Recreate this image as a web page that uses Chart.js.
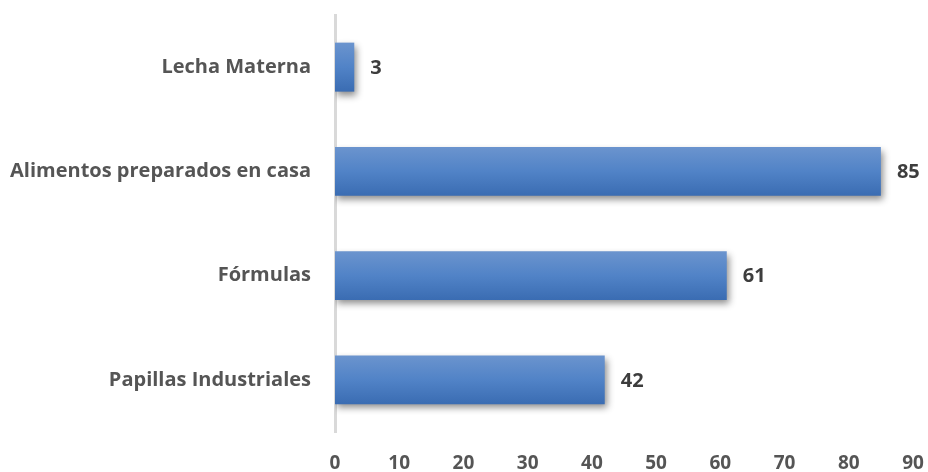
<!DOCTYPE html>
<html>
<head>
<meta charset="utf-8">
<script src="https://cdn.jsdelivr.net/npm/chart.js@4"></script>
<style>
  html, body { margin: 0; padding: 0; background: #fff; }
  canvas { display: block; }
</style>
</head>
<body>
<canvas id="chart" width="928" height="472"></canvas>
<script>
const categories = ['Lecha Materna', 'Alimentos preparados en casa', 'Fórmulas', 'Papillas Industriales']
const values = [3, 85, 61, 42]
const xTicks = [0, 10, 20, 30, 40, 50, 60, 70, 80, 90]

const textColor = '#555555'
const fontFamily = '"Open Sans", Lato, sans-serif'
const barShare = 0.94 * 0.5

// vertical gradient per bar, built from the category scale
function barGradient(context) {
  const chart = context.chart
  const y = chart.scales.y
  if (!y || context.dataIndex === undefined) return '#4f80c5'
  const center = y.getPixelForValue(context.dataIndex)
  const half = (y.height / categories.length) * barShare / 2
  if (!isFinite(center) || !isFinite(half) || half <= 0) return '#4f80c5'
  const g = chart.ctx.createLinearGradient(0, center - half, 0, center + half)
  g.addColorStop(0, '#6b94ce')
  g.addColorStop(0.5, '#5183c7')
  g.addColorStop(1, '#3a6cb2')
  return g
}

const barShadow = {
  id: 'barShadow',
  beforeDatasetDraw(chart) {
    const ctx = chart.ctx
    ctx.save()
    ctx.shadowColor = 'rgba(0,0,0,0.45)'
    ctx.shadowBlur = 7
    ctx.shadowOffsetX = 2
    ctx.shadowOffsetY = 4
  },
  afterDatasetDraw(chart) {
    chart.ctx.restore()
  }
}

const valueLabels = {
  id: 'valueLabels',
  afterDatasetsDraw(chart) {
    const ctx = chart.ctx
    const meta = chart.getDatasetMeta(0)
    ctx.save()
    ctx.font = 'bold 20px ' + fontFamily
    ctx.fillStyle = '#3d3d3d'
    ctx.textAlign = 'left'
    ctx.textBaseline = 'middle'
    meta.data.forEach((bar, i) => {
      ctx.fillText(String(values[i]), bar.x + 16, bar.y + 1)
    })
    ctx.restore()
  }
}

new Chart(document.getElementById('chart'), {
  type: 'bar',
  data: {
    labels: categories,
    datasets: [{
      data: values,
      backgroundColor: barGradient,
      borderWidth: 0,
      barPercentage: 0.94,
      categoryPercentage: 0.5
    }]
  },
  options: {
    indexAxis: 'y',
    responsive: false,
    animation: false,
    layout: { padding: { top: 15, right: 15, left: 0, bottom: 0 } },
    plugins: {
      legend: { display: false },
      tooltip: { enabled: false }
    },
    scales: {
      x: {
        min: 0,
        max: 90,
        afterBuildTicks: scale => { scale.ticks = xTicks.map(v => ({ value: v })) },
        afterFit: scale => {
          scale.height = 40
          scale.paddingLeft = 0
          scale.paddingRight = 0
        },
        grid: { display: false, drawTicks: false },
        border: { display: false },
        ticks: {
          padding: 20,
          color: textColor,
          font: { family: fontFamily, size: 19, weight: 'bold' }
        }
      },
      y: {
        afterFit: scale => {
          scale.width = 335
          scale.paddingTop = 0
          scale.paddingBottom = 0
        },
        grid: { display: false, drawTicks: false },
        border: { display: true, color: '#d9d9d9', width: 3 },
        ticks: {
          padding: 24,
          color: textColor,
          font: { family: fontFamily, size: 20, weight: 'bold' }
        }
      }
    }
  },
  plugins: [barShadow, valueLabels]
})
</script>
</body>
</html>
